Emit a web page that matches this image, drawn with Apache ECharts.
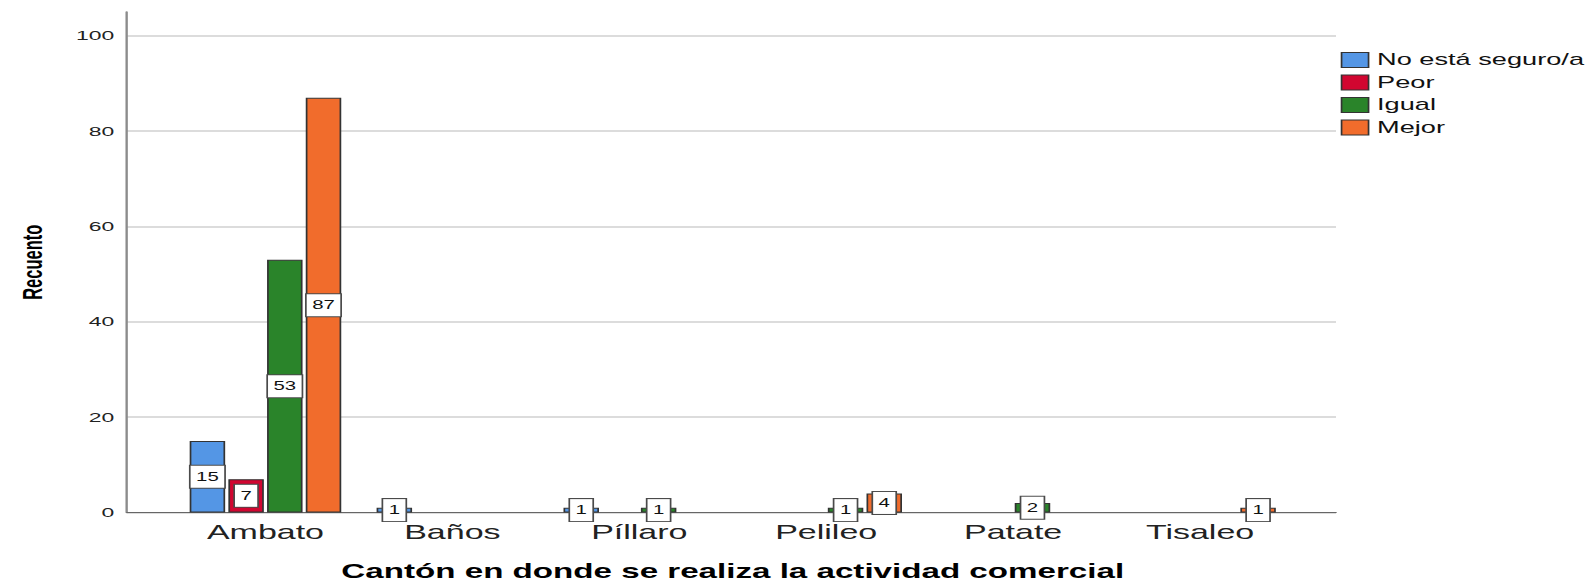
<!DOCTYPE html>
<html>
<head>
<meta charset="utf-8">
<script src="https://cdn.jsdelivr.net/npm/echarts@6/dist/echarts.min.js"></script>
<style>
html,body{margin:0;padding:0;background:#fff;overflow:hidden;}
#c{height:582px;transform-origin:0 0;}
</style>
</head>
<body>
<div id="c"></div>
<script>
// ---- data ----
const categories = ['Ambato', 'Baños', 'Píllaro', 'Pelileo', 'Patate', 'Tisaleo'];
const seriesNames = ['No está seguro/a', 'Peor', 'Igual', 'Mejor'];
const noSeguro = [15, 1, 1, 0, 0, 0];
const peor     = [7, 0, 0, 0, 0, 0];
const igual    = [53, 0, 1, 1, 2, 0];
const mejor    = [87, 0, 0, 4, 0, 1];
const yMin = 0, yMax = 105, yInterval = 20;
const xTitle = 'Cantón en donde se realiza la actividad comercial';
const yTitle = 'Recuento';

// ---- layout ----
const S = 1.7;                 // horizontal stretch of the original export
const W = 1589 / S;
const el = document.getElementById('c');
el.style.width = W + 'px';
el.style.transform = 'scaleX(' + S + ')';

const colors = ['#5496E5', '#D10630', '#2A842A', '#F16C2C'];
const values = [noSeguro, peor, igual, mejor];
const FONT = "'Liberation Sans', Arial, sans-serif";

const chart = echarts.init(el, null, {renderer: 'svg', width: W, height: 582});

const series = seriesNames.map((name, i) => ({
  name: name,
  type: 'bar',
  xAxisIndex: 1,
  yAxisIndex: 1,
  barWidth: 35.5 / S,
  barGap: '9%',
  data: values[i].map(v => v === 0 ? '-' : v),
  itemStyle: {color: colors[i], borderColor: '#333', borderWidth: 1},
  label: {
    show: true,
    position: 'inside',
    formatter: '{c}',
    backgroundColor: '#fff',
    borderColor: '#4a4a4a',
    borderWidth: 1,
    padding: [5, 3.2],
    lineHeight: 12,
    fontSize: 12,
    fontFamily: FONT,
    color: '#111'
  },
  emphasis: {disabled: true}
}));

chart.setOption({
  animation: false,
  grid: [
    {left: 127 / S, right: (1589 - 1336) / S, top: 12, bottom: 69.5, outerBoundsMode: 'none', containLabel: false},
    {left: 172 / S, right: (1589 - 1293.5) / S, top: 12, bottom: 69.5, outerBoundsMode: 'none', containLabel: false}
  ],
  legend: {
    orient: 'vertical',
    left: 1340.7 / S,
    top: 52,
    padding: 0,
    itemWidth: 27 / S,
    itemHeight: 15,
    itemGap: 6.5,
    icon: 'rect',
    itemStyle: {borderColor: '#333', borderWidth: 1},
    textStyle: {fontSize: 16, fontFamily: FONT, color: '#111', lineHeight: 15},
    data: seriesNames
  },
  xAxis: [
    {
      gridIndex: 0, type: 'value', min: 0, max: 1,
      axisLine: {show: true, onZero: false, lineStyle: {color: '#666', width: 1}},
      axisTick: {show: false}, axisLabel: {show: false}, splitLine: {show: false}
    },
    {
      gridIndex: 1, type: 'category', data: categories,
      axisLine: {show: false}, axisTick: {show: false},
      axisLabel: {fontSize: 20, margin: 10, color: '#222', fontFamily: FONT},
      name: xTitle, nameLocation: 'middle', nameGap: 50.5,
      nameTextStyle: {fontSize: 19.5, lineHeight: 16, fontWeight: 'bold', color: '#000', fontFamily: FONT}
    }
  ],
  yAxis: [
    {
      gridIndex: 0, type: 'value', min: yMin, max: yMax, interval: yInterval,
      axisLine: {show: true, lineStyle: {color: '#8c8c8c', width: 1.4}},
      axisTick: {show: false},
      axisLabel: {fontSize: 13.5, margin: 7.5, color: '#222', fontFamily: FONT, showMaxLabel: false},
      splitLine: {show: true, showMaxLine: false, lineStyle: {color: '#d0d0d0', width: 1.5}},
      name: yTitle, nameLocation: 'middle', nameGap: 47,
      nameTextStyle: {fontSize: 16.5, fontWeight: 'bold', color: '#000',
        fontFamily: "'Liberation Sans Narrow', 'Arial Narrow', 'Liberation Sans', sans-serif"}
    },
    {
      gridIndex: 1, type: 'value', min: yMin, max: yMax, interval: yInterval,
      show: false, splitLine: {show: false}
    }
  ],
  series: series
});
</script>
</body>
</html>
